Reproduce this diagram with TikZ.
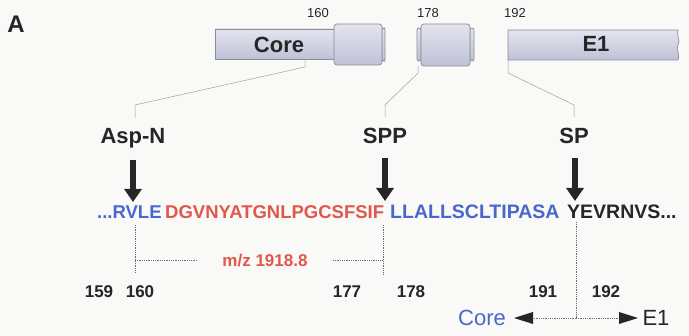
\documentclass[tikz,border=0pt]{standalone}
\usepackage{fontspec}
\setmainfont{Liberation Sans}
\usetikzlibrary{arrows.meta}
\definecolor{seqblue}{HTML}{4A68CC}
\definecolor{seqred}{HTML}{E0584C}
\definecolor{ink}{HTML}{262626}
\definecolor{cylline}{HTML}{8C8C98}
\definecolor{cyltop}{HTML}{E4E4EE}
\definecolor{cylmid}{HTML}{FDFDFF}
\definecolor{cyllow}{HTML}{BEC2D6}
\definecolor{dotc}{HTML}{5E6C86}
\definecolor{bgc}{HTML}{F9F9F7}
\tikzset{
  lab/.style={inner sep=0pt, text=ink, font=\bfseries\fontsize{22}{22}\selectfont},
  botlab/.style={inner sep=0pt, text=ink, font=\fontsize{22}{22}\selectfont},
  toplab/.style={inner sep=0pt, text=ink, font=\fontsize{13}{13}\selectfont},
  num/.style={inner sep=0pt, text=ink, font=\bfseries\fontsize{17}{17}\selectfont},
  barlab/.style={inner sep=0pt, text=ink, font=\bfseries\fontsize{22}{22}\selectfont},
  seq/.style={inner sep=0pt, anchor=base west, font=\bfseries\fontsize{18.5}{18.5}\selectfont},
  cyl/.style={draw=cylline, line width=0.7pt, top color=cyltop, middle color=cylmid, bottom color=cyllow},
  conn/.style={draw=gray!75, line width=0.5pt},
  dotl/.style={draw=dotc, line width=0.9pt, dash pattern=on 0.9pt off 0.9pt},
  cutarrow/.style={draw=ink, line width=6pt, -{Triangle[width=17pt,length=13pt]}},
  headtip/.style={fill=ink},
}
\begin{document}
\begin{tikzpicture}[x=1pt,y=-1pt]
\useasboundingbox (0,0) rectangle (689,336);
\fill[bgc] (0,0) rectangle (689,336);

\node[inner sep=0pt, text=ink, font=\bfseries\fontsize{24}{24}\selectfont] (panel) at (16,24) {A};

% cylinders
\path[cyl] (215,29) rectangle (334,59);
\path[cyl, rounded corners=2pt] (382,28) rectangle (385,61);
\path[cyl, rounded corners=3pt] (334,24) rectangle (382,65);
\path[cyl, rounded corners=2pt] (417,28) rectangle (421,61);
\path[cyl, rounded corners=2pt] (470,28) rectangle (474,61);
\path[cyl, rounded corners=3pt] (421,24) rectangle (470,66);
\path[cyl] (508,30) -- (678,30) .. controls (676,36) and (681,40) .. (678,45)
  .. controls (675,50) and (681,55) .. (678,60) -- (508,60) -- cycle;

\node[barlab] (corebar) at (279,45) {Core};
\node[barlab] (e1bar) at (596,44) {E1};
\node[toplab] (t160) at (318,13) {160};
\node[toplab] (t178) at (428,13) {178};
\node[toplab] (t192) at (515,13) {192};

% enzyme labels
\node[lab] (aspn) at (133,138) {Asp-N};
\node[lab] (spp) at (385,136) {SPP};
\node[lab] (sp) at (574,136) {SP};

% connectors from the bars
\coordinate (c1a) at (305,59); \coordinate (c1b) at (305,67);
\coordinate (c1c) at (135,105); \coordinate (c1d) at (135,118);
\draw[conn] (c1a) -- (c1b) -- (c1c) -- (c1d);
\coordinate (c2a) at (418,66); \coordinate (c2b) at (418,73);
\coordinate (c2c) at (385,105); \coordinate (c2d) at (385,117);
\draw[conn] (c2a) -- (c2b) -- (c2c) -- (c2d);
\coordinate (c3a) at (508,60); \coordinate (c3b) at (508,73);
\coordinate (c3c) at (574,105); \coordinate (c3d) at (574,117);
\draw[conn] (c3a) -- (c3b) -- (c3c) -- (c3d);

% cleavage arrows
\coordinate (a1s) at (133,160); \coordinate (a1e) at (133,202);
\coordinate (a2s) at (385,158); \coordinate (a2e) at (385,201);
\coordinate (a3s) at (575,158); \coordinate (a3e) at (575,201);
\draw[cutarrow] (a1s) -- (a1e);
\draw[cutarrow] (a2s) -- (a2e);
\draw[cutarrow] (a3s) -- (a3e);

% sequence
\node[seq, text=seqblue] (s1) at (97,219) {...RVLE};
\node[seq, text=seqred] (s2) at (165,219) {DGVNYATGNLPGCSFSIF};
\node[seq, text=seqblue, font=\bfseries\fontsize{19.5}{19.5}\selectfont] (s3) at (390,219) {LLALLSCLTIPASA};
\node[seq, text=ink, font=\bfseries\fontsize{19.5}{19.5}\selectfont] (s4) at (567,219) {YEVRNVS...};

% m/z bracket
\coordinate (m1) at (135,225); \coordinate (m2) at (135,273);
\coordinate (m3) at (383,225); \coordinate (m4) at (383,275);
\coordinate (h1) at (135,260); \coordinate (h2) at (197,260);
\coordinate (h3) at (333,260); \coordinate (h4) at (383,260);
\draw[dotl] (m1) -- (m2);
\draw[dotl] (m3) -- (m4);
\draw[dotl] (h1) -- (h2);
\draw[dotl] (h3) -- (h4);
\node[inner sep=0pt, text=seqred, font=\bfseries\fontsize{17}{17}\selectfont] (mz) at (265,261) {m/z 1918.8};

% residue numbers
\node[num] (n159) at (99,292) {159};
\node[num] (n160) at (140,292) {160};
\node[num] (n177) at (347,292) {177};
\node[num] (n178) at (411,292) {178};
\node[num] (n191) at (543,292) {191};
\node[num] (n192) at (606,292) {192};

% split
\coordinate (v1) at (576,222); \coordinate (v2) at (576,318);
\draw[dotl] (v1) -- (v2);
\node[botlab, text=seqblue] (corebot) at (482,318) {Core};
\node[botlab] (e1bot) at (656,318) {E1};
\coordinate (tipL) at (514,318);
\coordinate (baseL) at (533,318);
\coordinate (tipR) at (638,318);
\coordinate (baseR) at (619,318);
\draw[dotl] (v2) -- (baseL);
\draw[dotl] (v2) -- (baseR);
\fill[headtip] (tipL) -- (533,312) -- (533,324) -- cycle;
\fill[headtip] (tipR) -- (619,312) -- (619,324) -- cycle;
\end{tikzpicture}
\end{document}
